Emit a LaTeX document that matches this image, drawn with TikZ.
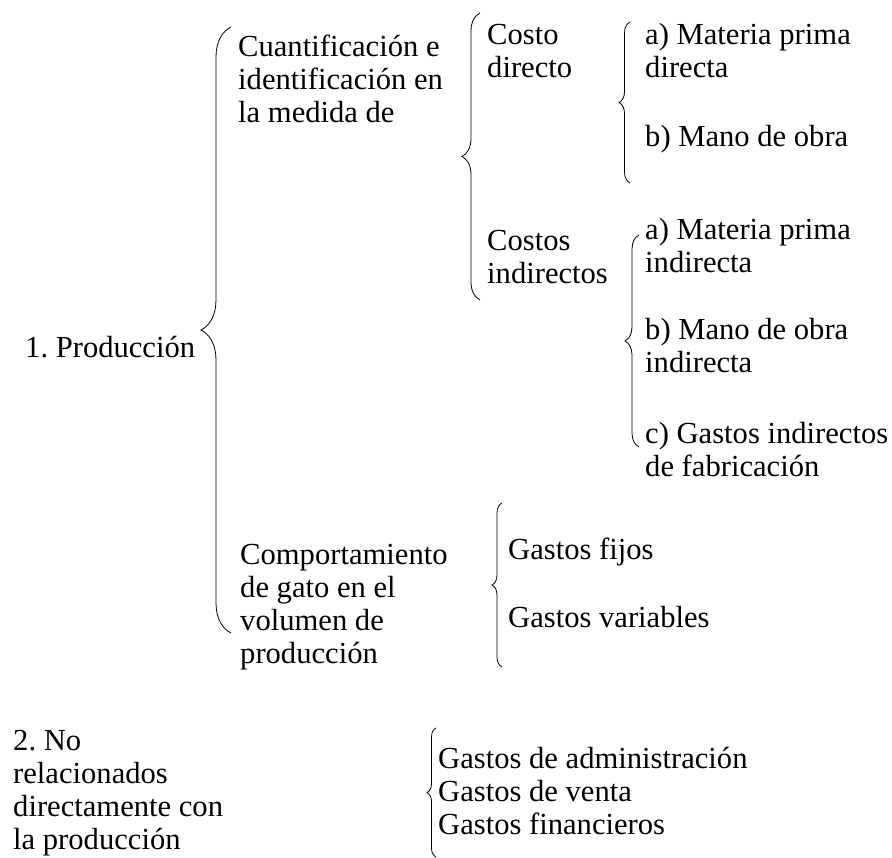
\documentclass[tikz,border=0pt]{standalone}
\usepackage{fontspec}
\setmainfont{Liberation Serif}
\usetikzlibrary{decorations.pathreplacing}

\begin{document}
\begin{tikzpicture}[x=1pt,y=-1pt,
  txt/.style={anchor=base west,inner sep=0pt,align=left,font=\fontsize{30.6}{33}\selectfont},
  llave/.style={decorate,decoration={brace,amplitude=#1},line width=0.8pt}]
\useasboundingbox (0,0) rectangle (892,858);

% textos
\node[txt] (prod) at (25,358) {1.\ Producción};
\node[txt] (cuant) at (238,123) {Cuantificación e\\identificación en\\la medida de};
\node[txt] (cdir) at (487,78) {Costo\\directo};
\node[txt] (cind) at (487,284) {Costos\\indirectos};
\node[txt] (mpd) at (645,78) {a) Materia prima\\directa};
\node[txt] (mob) at (645,147) {b) Mano de obra};
\node[txt] (mpi) at (645,273) {a) Materia prima\\indirecta};
\node[txt] (moi) at (645,373) {b) Mano de obra\\indirecta};
\node[txt] (gif) at (645,477) {c) Gastos indirectos\\de fabricación};
\node[txt] (comp) at (240,663) {Comportamiento\\de gato en el\\volumen de\\producción};
\node[txt] (gfij) at (508,559) {Gastos fijos};
\node[txt] (gvar) at (508,627) {Gastos variables};
\node[txt] (nore) at (13,849) {2.\ No\\relacionados\\directamente con\\la producción};
\node[txt] (gadm) at (438,834) {Gastos de administración\\Gastos de venta\\Gastos financieros};

% llaves
\coordinate (b1a) at (231,633); \coordinate (b1b) at (231,27);
\coordinate (b2a) at (480,300); \coordinate (b2b) at (480,13);
\coordinate (b3a) at (630,183); \coordinate (b3b) at (630,22);
\coordinate (b4a) at (639,447); \coordinate (b4b) at (639,235);
\coordinate (b5a) at (502,667); \coordinate (b5b) at (502,503);
\coordinate (b6a) at (436,857); \coordinate (b6b) at (436,728);
\draw[llave=30pt] (b1a) -- (b1b);
\draw[llave=18pt] (b2a) -- (b2b);
\draw[llave=11pt] (b3a) -- (b3b);
\draw[llave=14pt] (b4a) -- (b4b);
\draw[llave=10pt] (b5a) -- (b5b);
\draw[llave=9pt] (b6a) -- (b6b);
\end{tikzpicture}
\end{document}
